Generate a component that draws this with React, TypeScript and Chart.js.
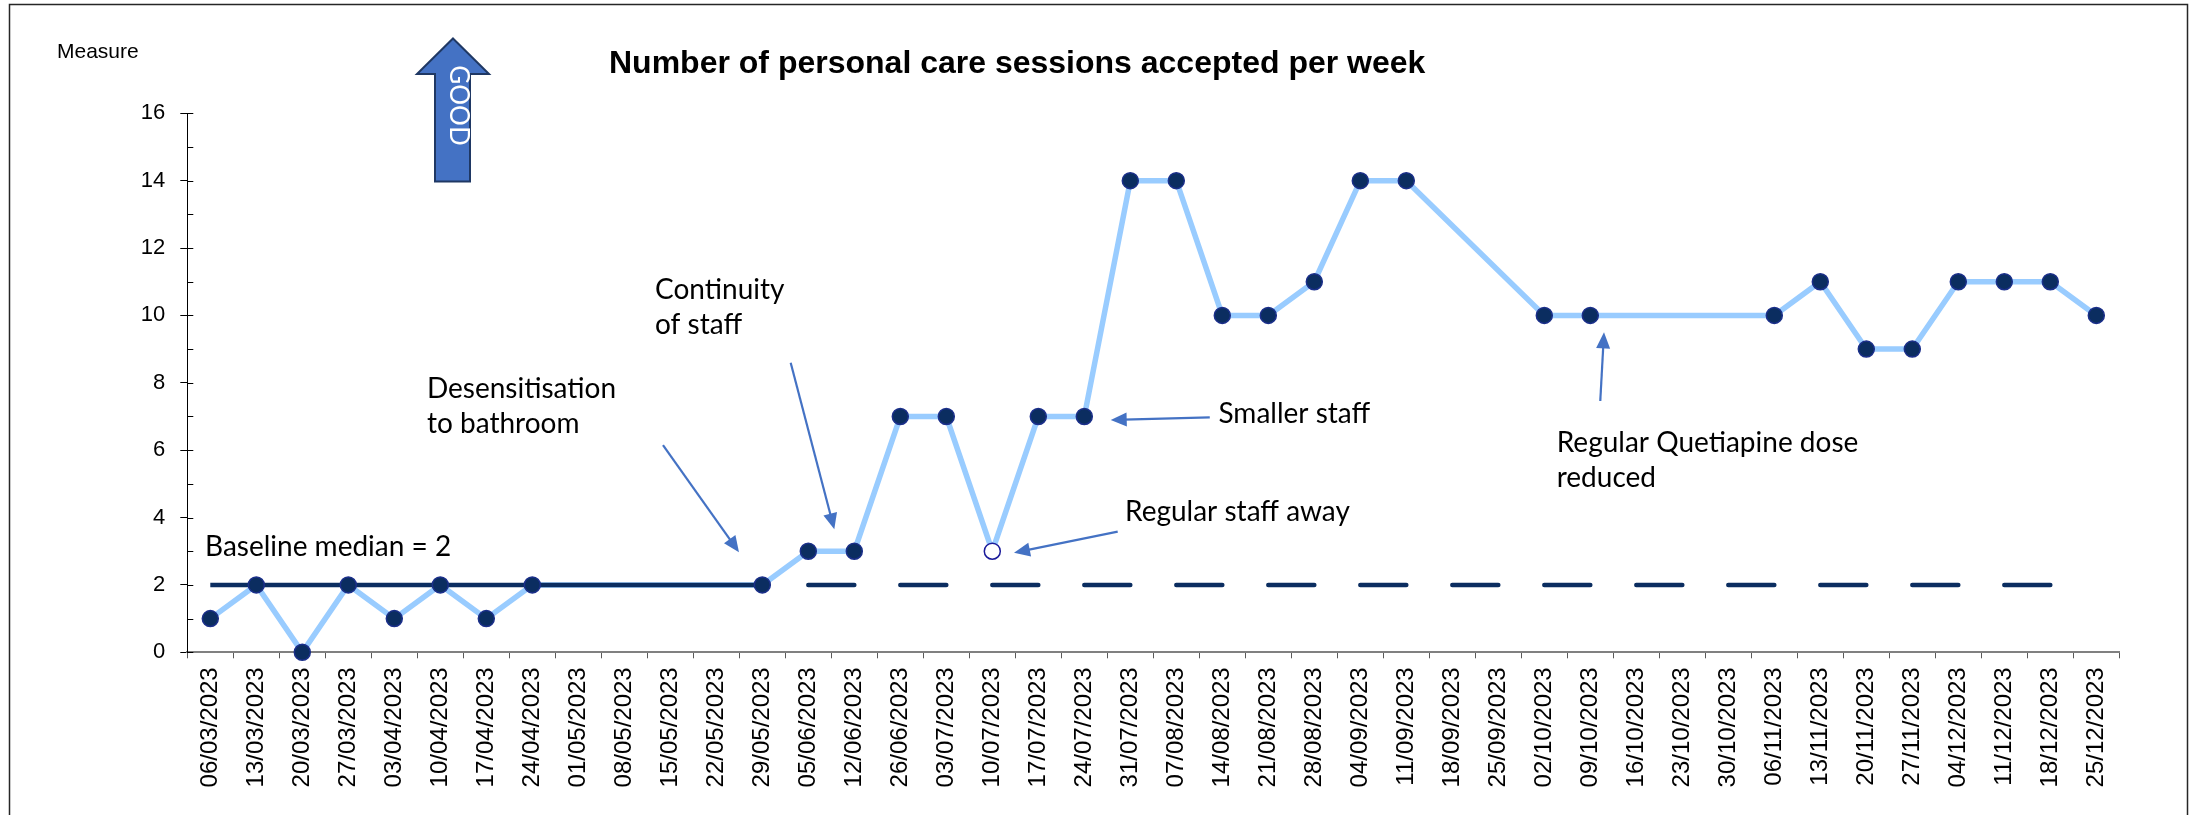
import React, { useEffect, useRef } from 'react';
import { Chart, registerables } from 'chart.js';

Chart.register(...registerables);

// ---------- data ----------
const weekLabels: string[] = [
  '06/03/2023', '13/03/2023', '20/03/2023', '27/03/2023', '03/04/2023', '10/04/2023',
  '17/04/2023', '24/04/2023', '01/05/2023', '08/05/2023', '15/05/2023', '22/05/2023',
  '29/05/2023', '05/06/2023', '12/06/2023', '26/06/2023', '03/07/2023', '10/07/2023',
  '17/07/2023', '24/07/2023', '31/07/2023', '07/08/2023', '14/08/2023', '21/08/2023',
  '28/08/2023', '04/09/2023', '11/09/2023', '18/09/2023', '25/09/2023', '02/10/2023',
  '09/10/2023', '16/10/2023', '23/10/2023', '30/10/2023', '06/11/2023', '13/11/2023',
  '20/11/2023', '27/11/2023', '04/12/2023', '11/12/2023', '18/12/2023', '25/12/2023',
];

const sessionsAccepted: (number | null)[] = [
  1, 2, 0, 2, 1, 2,
  1, 2, null, null, null, null,
  2, 3, 3, 7, 7, 3,
  7, 7, 14, 14, 10, 10,
  11, 14, 14, null, null, 10,
  10, null, null, null, 10, 11,
  9, 9, 11, 11, 11, 10,
];

const hollowWeeks: string[] = ['10/07/2023'];

const baselineMedian = 2;
const baselineFirstWeek = '06/03/2023';
const baselineLastWeek = '29/05/2023';
const extendedFirstWeek = '05/06/2023';
const extendedLastWeek = '18/12/2023';

const yTickValues: number[] = [0, 2, 4, 6, 8, 10, 12, 14, 16];

const chartTitle = 'Number of personal care sessions accepted per week';
const yAxisTitle = 'Measure';
const goodLabel = 'GOOD';

// annotation texts: x in category index units, y in measure units (baseline of first line)
const noteTexts: { lines: string[]; x: number; y: number }[] = [
  { lines: ['Baseline median = 2'], x: -0.115, y: 2.86 },
  { lines: ['Desensitisation', 'to bathroom'], x: 4.71, y: 7.557 },
  { lines: ['Continuity', 'of staff'], x: 9.668, y: 10.478 },
  { lines: ['Regular staff away'], x: 19.885, y: 3.897 },
  { lines: ['Smaller staff'], x: 21.917, y: 6.815 },
  { lines: ['Regular Quetiapine dose', 'reduced'], x: 29.27, y: 5.954 },
];

// annotation arrows: from -> to (tip), same units
const noteArrows: { from: [number, number]; to: [number, number] }[] = [
  { from: [9.841, 6.153], to: [11.493, 2.971] },
  { from: [12.617, 8.596], to: [13.565, 3.651] },
  { from: [19.726, 3.58], to: [17.472, 2.956] },
  { from: [21.728, 6.975], to: [19.574, 6.895] },
  { from: [30.217, 7.459], to: [30.298, 9.498] },
];

// ---------- styles ----------
const NAVY = '#0b2d60';
const MARKER_BORDER = '#1b2f8a';
const LIGHT_BLUE = '#99ccff';
const ARROW_BLUE = '#4472c4';
const AXIS_FONT = "'Liberation Sans', Arial, sans-serif";
const NOTE_FONT = "Lato, 'Noto Sans', sans-serif";

function drawArrow(ctx: CanvasRenderingContext2D, x1: number, y1: number, x2: number, y2: number) {
  const ang = Math.atan2(y2 - y1, x2 - x1);
  const hl = 16;
  const hw = 7;
  const c = Math.cos(ang);
  const s = Math.sin(ang);
  const bx = x2 - hl * c;
  const by = y2 - hl * s;
  ctx.save();
  ctx.strokeStyle = ARROW_BLUE;
  ctx.fillStyle = ARROW_BLUE;
  ctx.lineWidth = 2.2;
  ctx.beginPath();
  ctx.moveTo(x1, y1);
  ctx.lineTo(bx + 3 * c, by + 3 * s);
  ctx.stroke();
  ctx.beginPath();
  ctx.moveTo(x2, y2);
  ctx.lineTo(bx + hw * s, by - hw * c);
  ctx.lineTo(bx - hw * s, by + hw * c);
  ctx.closePath();
  ctx.fill();
  ctx.restore();
}

const overlayPlugin = {
  id: 'overlay',
  beforeDraw(chart: any) {
    const ctx = chart.ctx as CanvasRenderingContext2D;
    ctx.save();
    ctx.fillStyle = '#ffffff';
    ctx.fillRect(0, 0, chart.width, chart.height);
    ctx.restore();
  },
  afterDraw(chart: any) {
    const ctx = chart.ctx as CanvasRenderingContext2D;
    const xs = chart.scales.x;
    const ys = chart.scales.y;
    const area = chart.chartArea;

    ctx.save();
    // inward y ticks (major cross, minor inside)
    ctx.strokeStyle = '#000';
    ctx.lineWidth = 1;
    for (let v = 0; v <= 16; v++) {
      const y = Math.round(ys.getPixelForValue(v)) + 0.5;
      ctx.beginPath();
      ctx.moveTo(area.left, y);
      ctx.lineTo(area.left + 6, y);
      ctx.stroke();
    }

    // title
    ctx.fillStyle = '#000';
    ctx.textBaseline = 'alphabetic';
    ctx.textAlign = 'left';
    ctx.font = `bold 32px ${AXIS_FONT}`;
    ctx.fillText(chartTitle, 609, 73);

    // y axis title
    ctx.font = `21px ${AXIS_FONT}`;
    ctx.fillText(yAxisTitle, 57, 57.5);

    // GOOD arrow
    ctx.beginPath();
    ctx.moveTo(453, 38.5);
    ctx.lineTo(489, 74);
    ctx.lineTo(470, 74);
    ctx.lineTo(470, 181.5);
    ctx.lineTo(435, 181.5);
    ctx.lineTo(435, 74);
    ctx.lineTo(417, 74);
    ctx.closePath();
    ctx.fillStyle = '#4472c4';
    ctx.fill();
    ctx.strokeStyle = '#1f3864';
    ctx.lineWidth = 2;
    ctx.stroke();
    ctx.save();
    ctx.translate(458.5, 105.5);
    ctx.rotate(Math.PI / 2);
    ctx.fillStyle = '#ffffff';
    ctx.textAlign = 'center';
    ctx.textBaseline = 'middle';
    ctx.font = `26px ${NOTE_FONT}`;
    ctx.fillText(goodLabel, 0, 0);
    ctx.restore();

    // annotation texts
    ctx.fillStyle = '#000';
    ctx.textAlign = 'left';
    ctx.textBaseline = 'alphabetic';
    ctx.font = `28px ${NOTE_FONT}`;
    noteTexts.forEach((n) => {
      const px = xs.getPixelForValue(n.x);
      const py = ys.getPixelForValue(n.y);
      n.lines.forEach((line, i) => ctx.fillText(line, px, py + i * 35));
    });

    // annotation arrows
    noteArrows.forEach((a) => {
      drawArrow(
        ctx,
        xs.getPixelForValue(a.from[0]),
        ys.getPixelForValue(a.from[1]),
        xs.getPixelForValue(a.to[0]),
        ys.getPixelForValue(a.to[1])
      );
    });

    // frame
    ctx.strokeStyle = '#262626';
    ctx.lineWidth = 1.5;
    ctx.strokeRect(9.5, 4.5, 2178, 900);
    ctx.restore();
  },
};

export default function App() {
  const canvasRef = useRef<HTMLCanvasElement | null>(null);

  useEffect(() => {
    if (!canvasRef.current) return;
    const i0 = weekLabels.indexOf(baselineFirstWeek);
    const i1 = weekLabels.indexOf(baselineLastWeek);
    const j0 = weekLabels.indexOf(extendedFirstWeek);
    const j1 = weekLabels.indexOf(extendedLastWeek);
    const medianSolid = weekLabels.map((_, i) => (i >= i0 && i <= i1 ? baselineMedian : null));
    const medianExtended = weekLabels.map((_, i) => (i >= j0 && i <= j1 ? baselineMedian : null));
    const hollowIdx = hollowWeeks.map((w) => weekLabels.indexOf(w));

    const chart = new Chart(canvasRef.current, {
      type: 'line',
      data: {
        labels: weekLabels,
        datasets: [
          {
            label: 'points',
            data: sessionsAccepted,
            showLine: false,
            order: 0,
            clip: false as any,
            pointRadius: 8,
            pointBorderWidth: 1.5,
            pointBackgroundColor: (c: any) => (hollowIdx.includes(c.dataIndex) ? '#ffffff' : NAVY),
            pointBorderColor: (c: any) => (hollowIdx.includes(c.dataIndex) ? '#1a1a9a' : MARKER_BORDER),
          },
          {
            label: 'median',
            data: medianSolid,
            order: 1,
            borderColor: NAVY,
            borderWidth: 4.5,
            pointRadius: 0,
            spanGaps: false,
            clip: false as any,
          },
          {
            label: 'median extended',
            data: medianExtended,
            order: 1,
            borderColor: NAVY,
            borderWidth: 4.5,
            borderCapStyle: 'round',
            pointRadius: 0,
            spanGaps: false,
            clip: false as any,
            segment: {
              borderColor: (c: any) => ((c.p0DataIndex - j0) % 2 === 0 ? NAVY : 'rgba(0,0,0,0)'),
            },
          },
          {
            label: 'sessions',
            data: sessionsAccepted,
            order: 2,
            borderColor: LIGHT_BLUE,
            borderWidth: 5.5,
            pointRadius: 0,
            spanGaps: true,
            tension: 0,
            clip: false as any,
          },
        ],
      },
      options: {
        responsive: false,
        animation: false,
        devicePixelRatio: 1,
        events: [],
        layout: { padding: { left: 0, top: 113.3, right: 70.7, bottom: 0 } },
        plugins: {
          legend: { display: false },
          tooltip: { enabled: false },
          title: { display: false },
        },
        scales: {
          x: {
            type: 'category',
            offset: true,
            grid: {
              offset: true,
              drawOnChartArea: false,
              drawTicks: true,
              tickLength: 6,
              color: '#595959',
              lineWidth: 1,
            },
            border: { display: true, color: '#808080', width: 2 },
            ticks: {
              autoSkip: false,
              minRotation: 90,
              maxRotation: 90,
              padding: 9,
              color: '#000',
              font: { family: AXIS_FONT, size: 24 },
            },
            afterFit: (s: any) => {
              s.height = 162.7;
            },
          },
          y: {
            min: 0,
            max: 16,
            afterBuildTicks: (s: any) => {
              s.ticks = yTickValues.map((v) => ({ value: v }));
            },
            ticks: {
              padding: 15,
              color: '#000',
              font: { family: AXIS_FONT, size: 22 },
            },
            grid: {
              drawOnChartArea: false,
              drawTicks: true,
              tickLength: 7,
              color: '#000',
              lineWidth: 1,
            },
            border: { display: true, color: '#000', width: 1 },
            afterFit: (s: any) => {
              s.width = 187.3;
            },
          },
        },
      },
      plugins: [overlayPlugin],
    } as any);

    const fonts = (document as any).fonts;
    if (fonts && fonts.load) {
      Promise.all([fonts.load(`28px Lato`), fonts.load(`24px 'Liberation Sans'`)])
        .then(() => chart.draw())
        .catch(() => {});
    }

    return () => {
      chart.destroy();
    };
  }, []);

  return (
    <div style={{ position: 'absolute', left: 0, top: 0, width: 2190, height: 815, background: '#fff' }}>
      <canvas ref={canvasRef} width={2190} height={815} style={{ display: 'block' }} />
    </div>
  );
}
